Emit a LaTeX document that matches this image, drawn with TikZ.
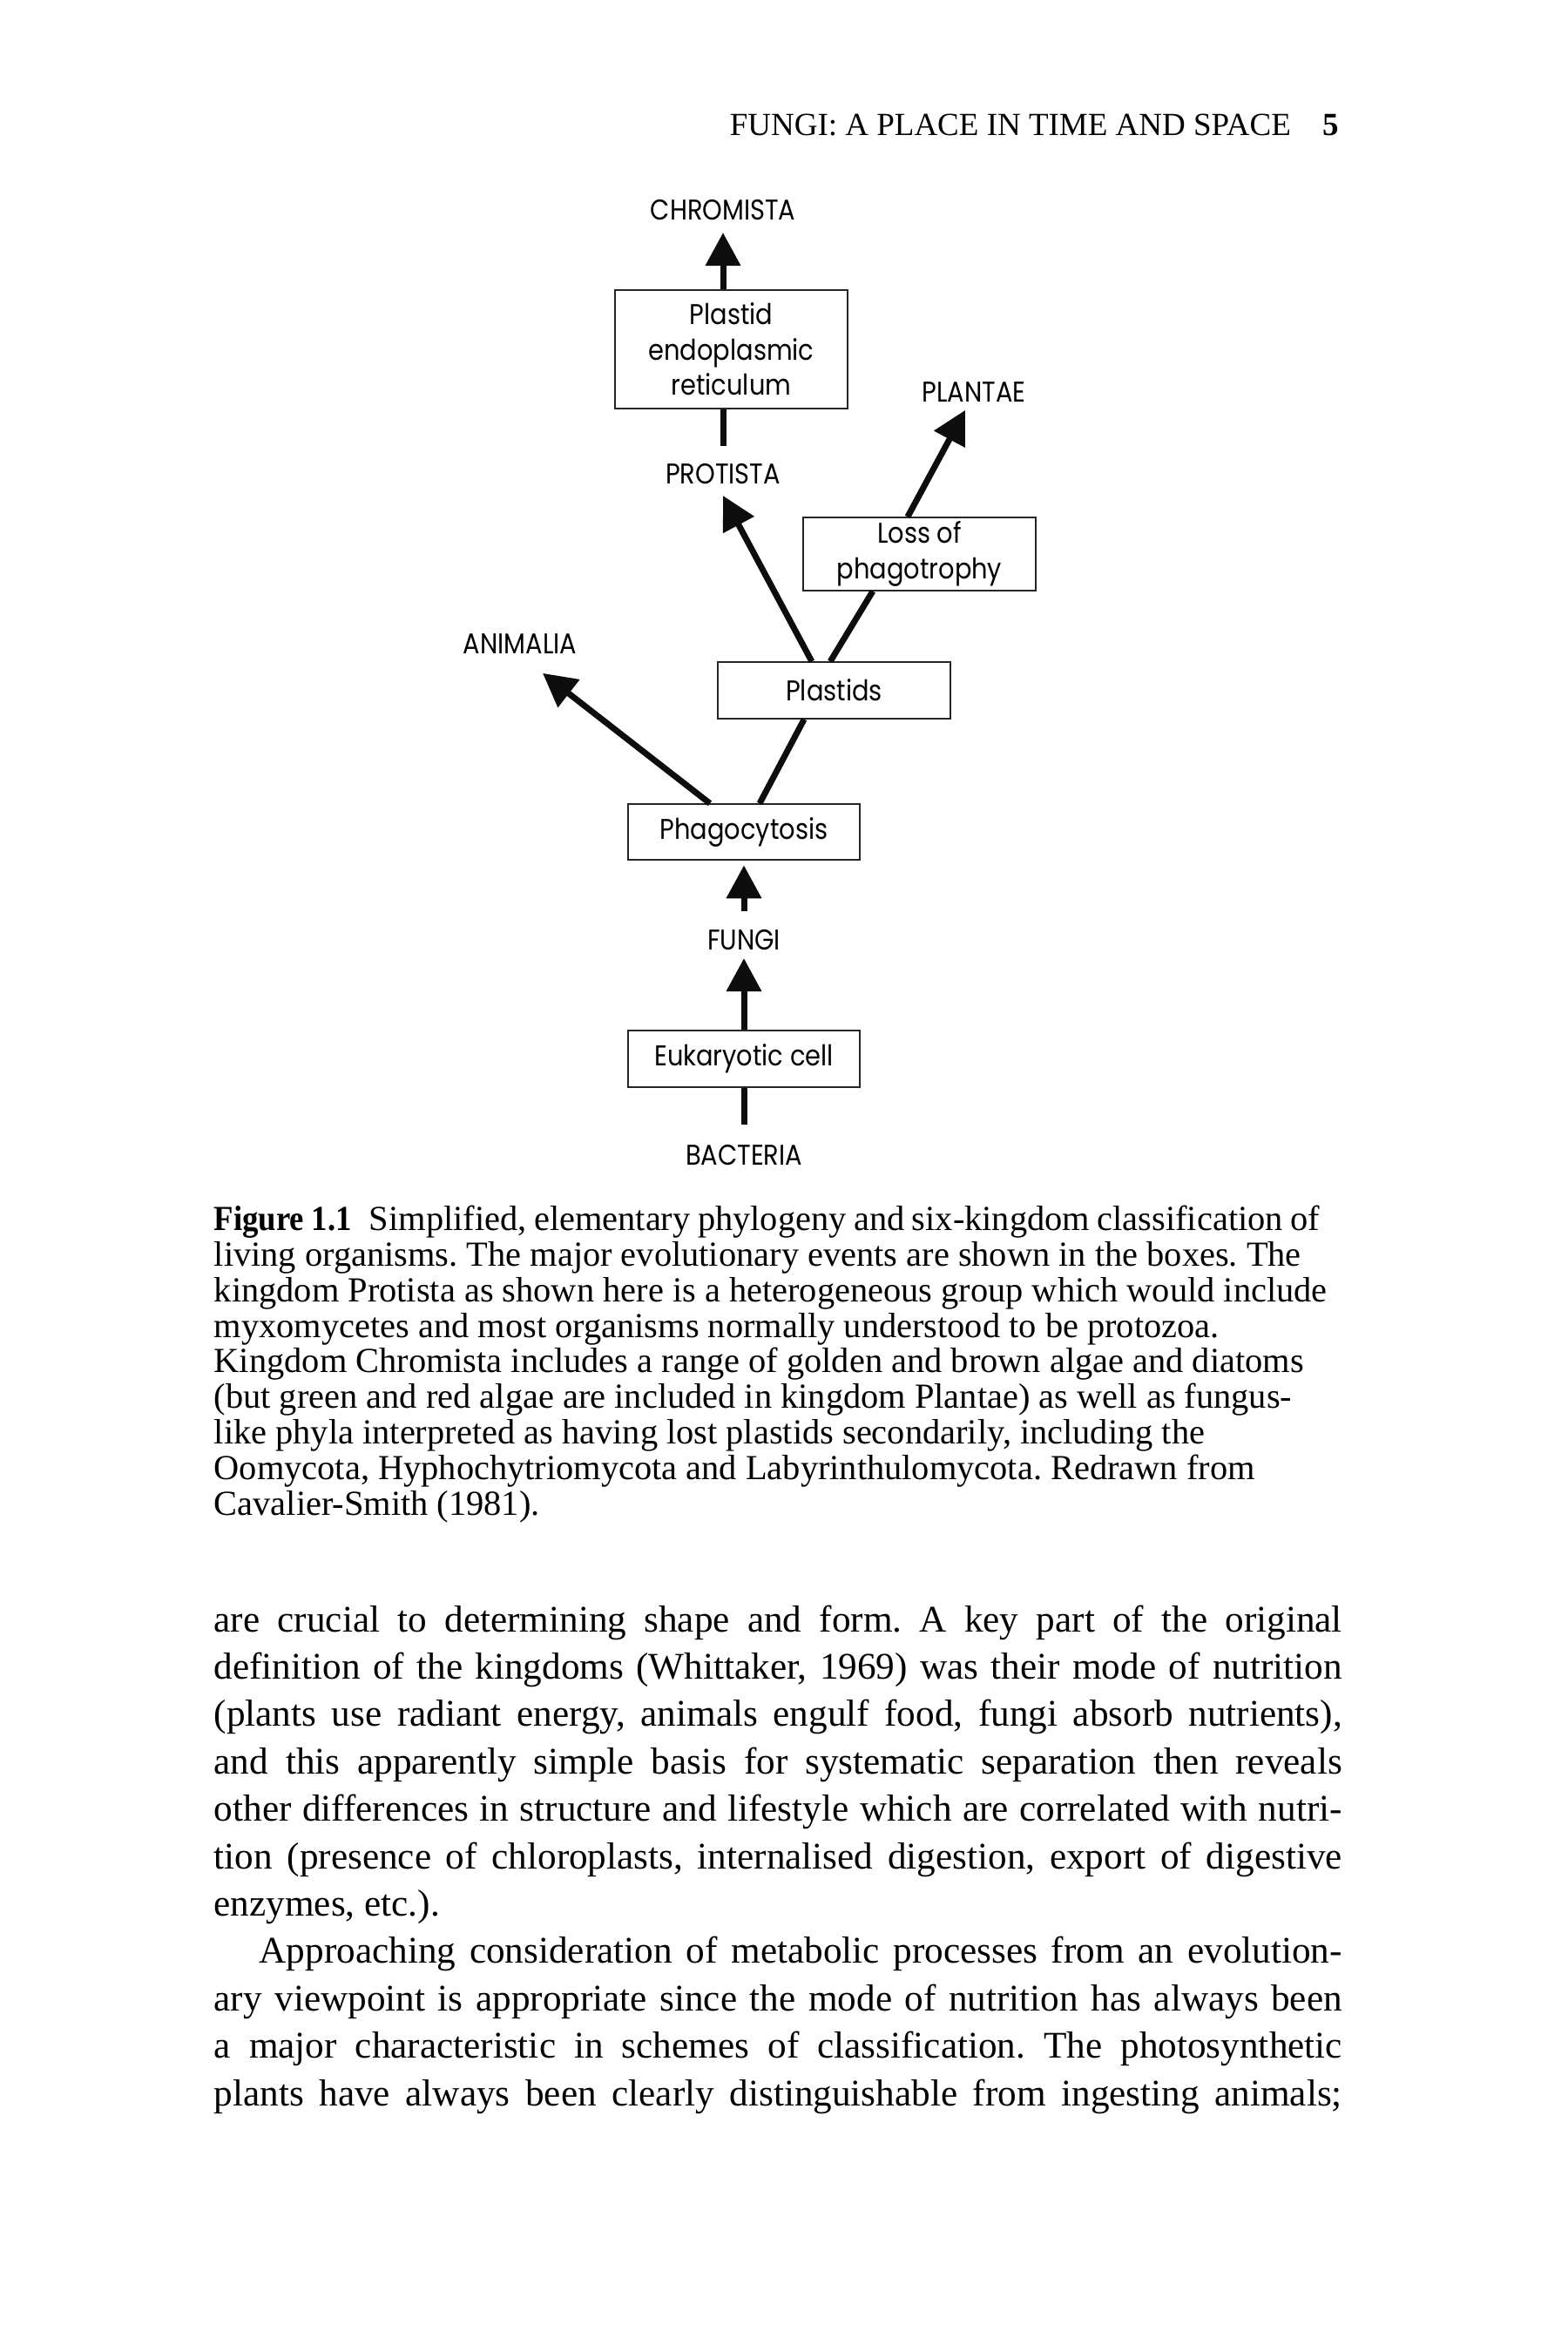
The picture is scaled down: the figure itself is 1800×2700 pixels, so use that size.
\documentclass[tikz,border=0pt]{standalone}
\usepackage{fontspec}
\setmainfont{Liberation Serif}
\newfontfamily\diagfam{Poppins}[FakeStretch=0.88]
\newfontface\figbold{Liberation Serif Bold}[FakeStretch=0.91]
\usetikzlibrary{arrows.meta,calc}
\newcommand\diagtxt{\diagfam\fontsize{8.2pt}{10.1pt}\selectfont}
\newcommand\headtxt{\fontsize{9.25pt}{11pt}\selectfont}
\newcommand\captxt{\fontsize{10.1pt}{10.2pt}\selectfont}
\newcommand\bodytxt{\fontsize{10.8pt}{13.6pt}\selectfont}
\newcommand\jline[1]{\makebox[323.75pt][s]{#1}}
\frenchspacing
\tikzset{
  box/.style={draw=black!85, line width=0.35pt, inner sep=0pt, font=\diagtxt, align=center, minimum width=66.75pt},
  lab/.style={font=\diagtxt, inner sep=0pt, anchor=base},
  conn/.style={line width=1.75pt, draw=black!95},
  arr/.style={conn, -{Triangle[length=9.5pt,width=9.75pt]}},
  captline/.style={font=\captxt, inner sep=0pt, anchor=base west},
  bodyline/.style={font=\bodytxt, inner sep=0pt, anchor=base west},
}
\begin{document}
\begin{tikzpicture}[x=0.25pt,y=-0.25pt]
\useasboundingbox (0,0) rectangle (1800,2700);
\fill[white] (0,0) rectangle (1800,2700);

% running head
\node[inner sep=0pt, anchor=base west, font=\headtxt] (head) at (837,155) {FUNGI: A PLACE IN TIME AND SPACE};
\node[inner sep=0pt, anchor=base east, font=\headtxt\bfseries] (pnum) at (1538,155) {5};

% diagram labels
\node[lab] (chromista) at (830,252) {CHROMISTA};
\node[lab] (protista) at (830,555) {PROTISTA};
\node[lab] (plantae) at (1118,461) {PLANTAE};
\node[lab] (animalia) at (597,750) {ANIMALIA};
\node[lab] (fungi) at (854,1090) {FUNGI};
\node[lab] (bacteria) at (854,1337) {BACTERIA};

% boxes
\node[box, minimum height=34pt] (per) at (839.5,401) {Plastid\\endoplasmic\\reticulum};
\node[box, minimum height=21pt] (loss) at (1055.5,636) {Loss of\\phagotrophy};
\node[box, minimum height=16.25pt] (plastids) at (957.5,792.5) {Plastids};
\node[box, minimum width=66.5pt, minimum height=16pt] (phago) at (854,955) {Phagocytosis};
\node[box, minimum width=66.5pt, minimum height=16.25pt] (euk) at (854,1215.5) {Eukaryotic cell};

% connectors
\draw[conn, shorten >=5.5pt] (euk.south) -- (bacteria.north);
\draw[arr, shorten >=2.25pt] (euk.north) -- (fungi.south);
\draw[arr, shorten <=5pt, shorten >=1.4pt] (fungi.north) -- (phago.south);
\draw[arr] ([xshift=-9.75pt]phago.north) -- ([xshift=6.5pt,yshift=-5.5pt]animalia.south);
\draw[conn] ([xshift=4.5pt]phago.north) -- ([xshift=-8.6pt]plastids.south);
\draw[arr] ([xshift=-6.4pt]plastids.north) -- ([yshift=-3.25pt]protista.south);
\draw[conn] ([xshift=-1.1pt]plastids.north) -- ([xshift=-13.4pt]loss.south);
\draw[arr] ([xshift=-3.4pt]loss.north) -- ([xshift=-2.5pt,yshift=-2.25pt]plantae.south);
\draw[conn, shorten <=4.75pt] (protista.north) -- (per.south -| protista.north);
\draw[arr, shorten >=3.5pt] (per.north -| chromista.south) -- (chromista.south);

% caption
\node[captline] (c1) at (245,1412.7) {\spaceskip=0.21em plus 0.1em minus 0.05em {\figbold Figure 1.1}\hspace{0.5em}Simplified, elementary phylogeny and six-kingdom classification of};
\node[captline] (c2) at (245,1453.5) {living organisms. The major evolutionary events are shown in the boxes. The};
\node[captline] (c3) at (245,1494.3) {kingdom Protista as shown here is a heterogeneous group which would include};
\node[captline] (c4) at (245,1535.1) {myxomycetes and most organisms normally understood to be protozoa.};
\node[captline] (c5) at (245,1575.9) {Kingdom Chromista includes a range of golden and brown algae and diatoms};
\node[captline] (c6) at (245,1616.7) {(but green and red algae are included in kingdom Plantae) as well as fungus-};
\node[captline] (c7) at (245,1657.5) {like phyla interpreted as having lost plastids secondarily, including the};
\node[captline] (c8) at (245,1698.3) {Oomycota, Hyphochytriomycota and Labyrinthulomycota. Redrawn from};
\node[captline] (c9) at (245,1739.1) {Cavalier-Smith (1981).};

% body text
\node[bodyline] (b1) at (245,1873) {\jline{are crucial to determining shape and form. A key part of the original}};
\node[bodyline] (b2) at (245,1927.4) {\jline{definition of the kingdoms (Whittaker, 1969) was their mode of nutrition}};
\node[bodyline] (b3) at (245,1981.8) {\jline{(plants use radiant energy, animals engulf food, fungi absorb nutrients),}};
\node[bodyline] (b4) at (245,2036.2) {\jline{and this apparently simple basis for systematic separation then reveals}};
\node[bodyline] (b5) at (245,2090.6) {\jline{other differences in structure and lifestyle which are correlated with nutri-}};
\node[bodyline] (b6) at (245,2145.0) {\jline{tion (presence of chloroplasts, internalised digestion, export of digestive}};
\node[bodyline] (b7) at (245,2199.4) {enzymes, etc.).};
\node[bodyline] (b8) at (297,2253.8) {\makebox[310.75pt][s]{Approaching consideration of metabolic processes from an evolution-}};
\node[bodyline] (b9) at (245,2308.2) {\jline{ary viewpoint is appropriate since the mode of nutrition has always been}};
\node[bodyline] (b10) at (245,2362.6) {\jline{a major characteristic in schemes of classification. The photosynthetic}};
\node[bodyline] (b11) at (245,2417.0) {\jline{plants have always been clearly distinguishable from ingesting animals;}};
\end{tikzpicture}
\end{document}
